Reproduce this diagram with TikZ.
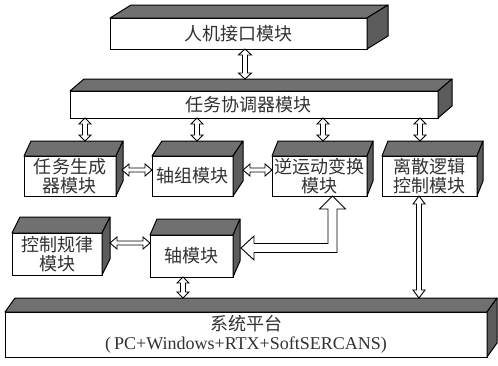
\documentclass[tikz,border=0pt]{standalone}
\usepackage{fontspec}
\newfontfamily\cjk{Noto Sans CJK SC}
\newfontfamily\latin{Liberation Serif}
\usetikzlibrary{calc}

\definecolor{facegray}{RGB}{112,112,112}
\definecolor{sidegray}{RGB}{92,92,92}
\definecolor{inkgray}{RGB}{50,50,50}

% vertical hollow double arrow: x taken from #1, tips at #2 (upper) and #3 (lower)
% #4 shaft half-width, #5 head half-width, #6 head length
\newcommand\vharrow[6]{%
  \draw[harrow] let \p1=(#2), \p2=(#3), \p3=(#1) in
    (\x3,\y1) -- (\x3+#5,\y1-#6) -- (\x3+#4,\y1-#6) -- (\x3+#4,\y2+#6)
    -- (\x3+#5,\y2+#6) -- (\x3,\y2) -- (\x3-#5,\y2+#6) -- (\x3-#4,\y2+#6)
    -- (\x3-#4,\y1-#6) -- (\x3-#5,\y1-#6) -- cycle;}
% horizontal hollow double arrow: y taken from #1, tips at #2 (left) and #3 (right)
\newcommand\hharrow[6]{%
  \draw[harrow] let \p1=(#2), \p2=(#3), \p3=(#1) in
    (\x1,\y3) -- (\x1+#6,\y3+#5) -- (\x1+#6,\y3+#4) -- (\x2-#6,\y3+#4)
    -- (\x2-#6,\y3+#5) -- (\x2,\y3) -- (\x2-#6,\y3-#5) -- (\x2-#6,\y3-#4)
    -- (\x1+#6,\y3-#4) -- (\x1+#6,\y3-#5) -- cycle;}

\begin{document}
\begin{tikzpicture}[x=1pt,y=-1pt,
  box/.style={draw=black, fill=white, line width=1pt, outer sep=0pt, inner sep=0pt,
    align=center, text=inkgray, font=\cjk\fontsize{18}{18.5}\selectfont},
  topface/.style={draw=black, fill=facegray, line width=1pt, line join=round},
  sideface/.style={draw=black, fill=sidegray, line width=1pt, line join=round},
  harrow/.style={draw=black, fill=white, line width=0.9pt, line join=miter}]
\fill[white] (0,0) rectangle (498,365);
\useasboundingbox (0,0) rectangle (498,365);

% front faces of the modules
\node[box, minimum width=257pt, minimum height=31pt] (hmi) at (238.5,33.5) {人机接口模块};
\node[box, minimum width=368pt, minimum height=27pt] (coord) at (254,104.5) {任务协调器模块\hspace*{12pt}};
\node[box, minimum width=92pt, minimum height=40pt] (taskgen) at (70,176) {任务生成\\器模块};
\node[box, minimum width=81pt, minimum height=40pt] (axisgrp) at (192.5,176) {轴组模块};
\node[box, minimum width=95pt, minimum height=40pt] (ik) at (319.5,176) {逆运动变换\\模块};
\node[box, minimum width=95pt, minimum height=40pt] (discrete) at (429.5,176) {离散逻辑\\控制模块};
\node[box, minimum width=90pt, minimum height=42pt] (ctrl) at (57,254) {控制规律\\模块};
\node[box, minimum width=83pt, minimum height=42pt] (axis) at (191.5,256) {\raisebox{-3pt}{轴模块}};
\node[box, minimum width=482pt, minimum height=45pt] (platform) at (246,334.5)
  {系统平台\\{\latin\fontsize{18}{18.5}\selectfont (\,PC+Windows+RTX+SoftSERCANS)}};

% top and right faces of the boxes
\foreach \n/\dx/\dy in {hmi/21/13, coord/14/12, taskgen/7/15, axisgrp/10/15, ik/6/15,
                        discrete/6/15, ctrl/8/16, axis/7/16, platform/10/14}{
  \filldraw[topface] (\n.north west) -- ++(\dx,-\dy) -- ($(\n.north east)+(\dx,-\dy)$)
    -- (\n.north east) -- cycle;
  \filldraw[sideface] (\n.north east) -- ++(\dx,-\dy) -- ($(\n.south east)+(\dx,-\dy)$)
    -- (\n.south east) -- cycle;
}

% connections
\vharrow{[xshift=6.5pt]hmi.south}{hmi.south}{[yshift=12pt]coord.north}{2.5pt}{6.5pt}{6pt}
\vharrow{[xshift=15pt]taskgen.north}{coord.south}{[shift={(15pt,15pt)}]taskgen.north}{2.5pt}{6pt}{6pt}
\vharrow{[xshift=4.5pt]axisgrp.north}{coord.south}{[shift={(4.5pt,15pt)}]axisgrp.north}{2.5pt}{6pt}{6pt}
\vharrow{[xshift=3.5pt]ik.north}{coord.south}{[shift={(3.5pt,15pt)}]ik.north}{2.5pt}{6pt}{6pt}
\vharrow{[xshift=-9.5pt]discrete.north}{coord.south}{[shift={(-9.5pt,15pt)}]discrete.north}{2.5pt}{6pt}{6pt}

\hharrow{[yshift=6pt]taskgen.east}{[xshift=6pt]taskgen.east}{axisgrp.west}{2pt}{6pt}{7pt}
\hharrow{[yshift=6pt]axisgrp.east}{[xshift=10pt]axisgrp.east}{ik.west}{2pt}{6pt}{7pt}
\hharrow{[yshift=11pt]ctrl.east}{[xshift=8pt]ctrl.east}{axis.west}{2pt}{6pt}{7pt}

\vharrow{[xshift=-8.5pt]axis.south}{axis.south}{[yshift=14pt]platform.north}{2.5pt}{6pt}{6pt}
\vharrow{[xshift=-10.5pt]discrete.south}{discrete.south}{[shift={(-10.5pt,14pt)}]platform.north}{2.5pt}{6pt}{8pt}

% L-shaped link from the axis module up to the inverse kinematics module
\draw[harrow] let \p1=([shift={(8pt,8pt)}]axis.east), \p2=([xshift=13pt]ik.south) in
  (\x1,\y1) -- (\x1+13pt,\y1+12pt) -- (\x1+13pt,\y1+4.5pt) -- (\x2-4.5pt,\y1+4.5pt)
  -- (\x2-4.5pt,\y2-13pt) -- (\x2-13pt,\y2-13pt) -- (\x2,\y2) -- (\x2+13pt,\y2-13pt)
  -- (\x2+4.5pt,\y2-13pt) -- (\x2+4.5pt,\y1-4.5pt) -- (\x1+13pt,\y1-4.5pt)
  -- (\x1+13pt,\y1-12pt) -- cycle;
\end{tikzpicture}
\end{document}
